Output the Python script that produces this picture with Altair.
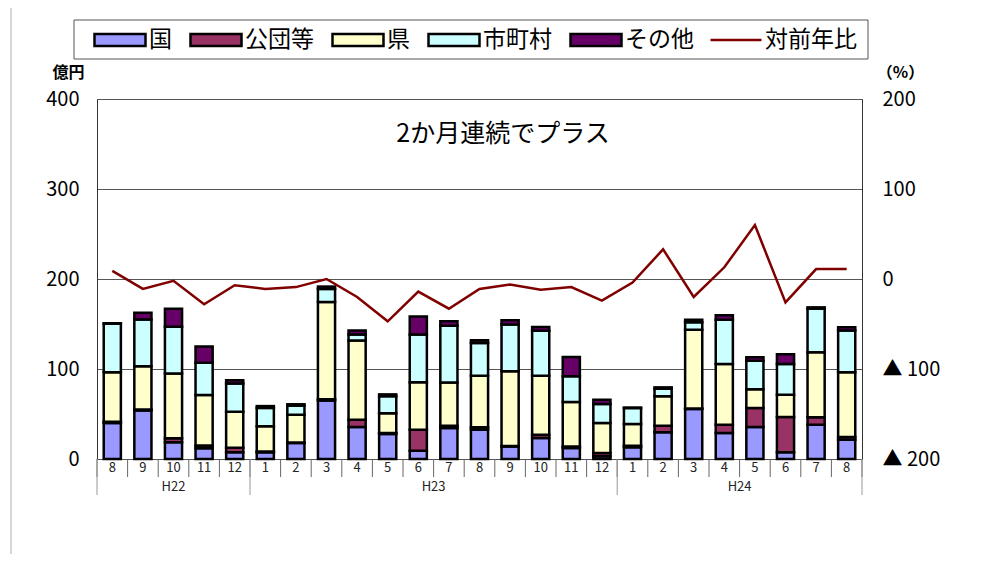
import altair as alt
import pandas as pd

# ---- data ----
months = [8, 9, 10, 11, 12, 1, 2, 3, 4, 5, 6, 7, 8, 9, 10, 11, 12, 1, 2, 3, 4, 5, 6, 7, 8]
years = ["H22"] * 5 + ["H23"] * 12 + ["H24"] * 8
series_names = ["国", "公団等", "県", "市町村", "その他"]
series_colors = ["#9999FF", "#993366", "#FFFFCC", "#CCFFFF", "#660066"]
kuni = [40, 54, 18.5, 12, 7.4, 7.4, 17.8, 65, 35.6, 27.8, 9.3, 34.4, 32.6, 14, 23.3, 12.2, 3,
        13, 29.6, 55.6, 28.9, 35.6, 7.4, 38.1, 21.5]
kodan = [1.5, 1, 4.5, 3, 5, 1, 0.5, 1.5, 8, 1, 23.3, 2.6, 2.6, 0.5, 3.7, 1.8, 3.7,
         1.8, 7.4, 0.5, 9.2, 21, 39.3, 8.2, 3]
ken = [55, 48, 72, 56, 40, 28, 31, 108, 88, 22, 52.6, 48, 57.4, 83, 65.6, 49.3, 33.3,
       24, 32.6, 87.6, 67.5, 21, 24.8, 72.2, 72]
shichoson = [53.7, 52, 52, 36, 31.5, 20.4, 10, 14.5, 6.7, 19, 53, 63, 36.3, 52, 50, 28.6, 21,
             17.8, 8.5, 8.2, 49.2, 31.5, 34, 48.5, 46.3]
sonota = [0.5, 7.6, 20, 18, 3.7, 2, 1.5, 2.6, 4.5, 2, 20, 5, 3, 4.7, 4, 21.4, 4.8,
          0.5, 1.5, 2.9, 4.8, 4, 11, 1.5, 3.7]
yoy = [9, -11, -2, -28, -7, -11, -9, 0, -20, -47, -14, -33, -11, -6, -12, -9, -24,
       -4, 33, -20, 13, 60, -26, 11, 11]
line_name = "対前年比"
title_text = "2か月連続でプラス"
left_ticks = [0, 100, 200, 300, 400]
right_ticks = [-200, -100, 0, 100, 200]

FONT = "Noto Sans CJK JP"

# ---- tables ----
values = [kuni, kodan, ken, shichoson, sonota]
rows = []
for s, (name, vals) in enumerate(zip(series_names, values)):
    for i, v in enumerate(vals):
        rows.append({"idx": i, "series": name, "order": s, "value": v})
bars_df = pd.DataFrame(rows)

line_df = pd.DataFrame({"idx": list(range(len(months))), "yoy": yoy})
month_df = pd.DataFrame({"idx": list(range(len(months))), "month": [str(m) for m in months]})
sep_df = pd.DataFrame({"b": list(range(len(months) + 1))})

year_rows = []
for y in ["H22", "H23", "H24"]:
    ids = [i for i, yy in enumerate(years) if yy == y]
    year_rows.append({"year": y, "start": ids[0], "end": ids[-1] + 1,
                      "center": (ids[0] + ids[-1] + 1) / 2})
year_df = pd.DataFrame(year_rows)
ybound_df = pd.DataFrame({"b": sorted(set(year_df["start"]).union(set(year_df["end"])))})

N = len(months)
xscale = alt.Scale(domain=[0, N], nice=False, zero=False)

# frame and legend box (decoration)
frame_h = alt.Chart(pd.DataFrame({"a": [0]})).mark_rule(color="#c8c8c8", strokeWidth=1.5).encode(
    x=alt.value(-86), x2=alt.value(900), y=alt.value(-92))
frame_v = alt.Chart(pd.DataFrame({"a": [0]})).mark_rule(color="#c8c8c8", strokeWidth=1.5).encode(
    x=alt.value(-86), y=alt.value(-92), y2=alt.value(470))
legend_box = alt.Chart(pd.DataFrame({"a": [0]})).mark_rect(
    fill="white", stroke="#555", strokeWidth=1).encode(
    x=alt.value(-23), x2=alt.value(771), y=alt.value(-79), y2=alt.value(-40))

bars = alt.Chart(bars_df).transform_stack(
    stack="value", groupby=["idx"], as_=["v0", "v1"],
    sort=[alt.SortField("order", order="ascending")]
).transform_calculate(
    x0="datum.idx + 0.22", x1="datum.idx + 0.78"
).mark_bar(stroke="black", strokeWidth=2.5).encode(
    x=alt.X("x0:Q", scale=xscale, axis=None),
    x2="x1:Q",
    y=alt.Y("v0:Q", scale=alt.Scale(domain=[0, 400], nice=False),
            axis=alt.Axis(values=left_ticks, labelFontSize=20, labelFont=FONT, labelColor="black",
                          labelPadding=18, ticks=False, domain=True, domainColor="#333",
                          grid=True, gridColor="#555", gridWidth=1,
                          title="億円", titleAngle=0, titleX=-29, titleY=-27,
                          titleFontSize=16, titleFont=FONT, titleFontWeight="bold",
                          titleAlign="center", titleBaseline="middle")),
    y2="v1:Q",
    fill=alt.Fill("series:N", scale=alt.Scale(domain=series_names, range=series_colors),
                  legend=alt.Legend(orient="none", legendX=-4, legendY=-86, direction="horizontal",
                                    title=None, symbolType="M-1,-0.235H1V0.235H-1Z",
                                    symbolSize=2601, symbolStrokeColor="black",
                                    symbolStrokeWidth=2.5, symbolOpacity=1,
                                    labelFontSize=23, labelFont=FONT, labelColor="black",
                                    labelOffset=2, columnPadding=13, padding=0)),
)

line = alt.Chart(line_df).transform_calculate(
    xc="datum.idx + 0.5", lbl="'" + line_name + "'"
).mark_line(strokeWidth=2.5).encode(
    x=alt.X("xc:Q", scale=xscale, axis=None),
    y=alt.Y("yoy:Q", scale=alt.Scale(domain=[-200, 200], nice=False),
            axis=alt.Axis(orient="right", values=right_ticks,
                          labelExpr="datum.value < 0 ? '▲ ' + abs(datum.value) : '' + datum.value",
                          labelAlign="left", labelPadding=20, labelFontSize=20, labelFont=FONT,
                          labelColor="black", ticks=False, grid=False, domain=True,
                          domainColor="#333",
                          title="（%）", titleAngle=0, titleX=38, titleY=-27,
                          titleFontSize=16, titleFont=FONT, titleFontWeight="bold",
                          titleAlign="center", titleBaseline="middle")),
    stroke=alt.Stroke("lbl:N", scale=alt.Scale(domain=[line_name], range=["#800000"]),
                      legend=alt.Legend(orient="none", legendX=612, legendY=-86, title=None,
                                        symbolType="stroke", symbolSize=2601,
                                        symbolStrokeWidth=2.5, labelFontSize=23, labelFont=FONT,
                                        labelColor="black", labelOffset=2, padding=0)),
)

seps = alt.Chart(sep_df).mark_rule(color="#666", strokeWidth=1).encode(
    x=alt.X("b:Q", scale=xscale, axis=None), y=alt.value(360), y2=alt.value(378))
ybounds = alt.Chart(ybound_df).mark_rule(color="#999", strokeWidth=1).encode(
    x=alt.X("b:Q", scale=xscale, axis=None), y=alt.value(360), y2=alt.value(396))

month_text = alt.Chart(month_df).transform_calculate(xc="datum.idx + 0.5").mark_text(
    fontSize=13, font=FONT, color="#222", baseline="middle").encode(
    x=alt.X("xc:Q", scale=xscale, axis=None), y=alt.value(369), text="month:N")
year_text = alt.Chart(year_df).mark_text(
    fontSize=13, font=FONT, color="#222", baseline="middle").encode(
    x=alt.X("center:Q", scale=xscale, axis=None), y=alt.value(388), text="year:N")

title = alt.Chart(pd.DataFrame({"t": [title_text]})).mark_text(
    fontSize=25, font=FONT, color="black", baseline="middle").encode(
    x=alt.value(406), y=alt.value(35), text="t:N")

chart = alt.layer(
    frame_h, frame_v, legend_box, bars, line, seps, ybounds, month_text, year_text, title
).resolve_scale(y="independent").properties(
    width=765, height=360,
    autosize=alt.AutoSizeParams(type="none"),
    padding={"left": 89, "top": 91, "right": 112, "bottom": 95},
).configure_view(stroke="#777", strokeWidth=1)

chart.save("out.html", embed_options={"renderer": "svg", "actions": False})
